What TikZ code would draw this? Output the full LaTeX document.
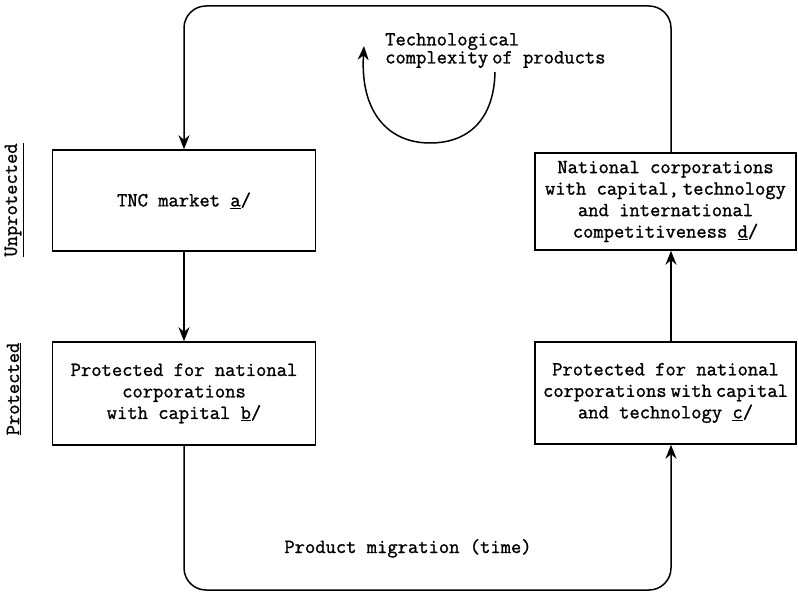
\documentclass[tikz,border=0pt]{standalone}
\usepackage{fontspec}
\setmainfont{Latin Modern Mono}[FakeBold=1.2]
\usetikzlibrary{arrows.meta}

\newcommand{\nsp}{\hspace{0.2em}}

\begin{document}
\begin{tikzpicture}[x=1pt,y=-1pt,
    every node/.style={font=\fontsize{20}{21.5}\selectfont},
    box/.style={draw,line width=1.5pt,align=center,inner sep=1pt,minimum width=263pt,minimum height=101pt},
    flow/.style={line width=1.5pt,-{Stealth[length=14pt,width=11pt]}}]
\useasboundingbox (0,0) rectangle (798,593);
\coordinate (tl) at (184,6);
\coordinate (tr) at (671,6);
\coordinate (bl) at (184,590);
\coordinate (br) at (671,590);
            \node [box] (tnc) at (184,200.5) {TNC market \underline{a}/};
            \node [box,minimum height=103pt] (natcap) at (184,393.5)
                {Protected for national\\corporations\\with capital \underline{b}/};
            \node [box,minimum width=261pt,minimum height=97pt] (natcomp) at (665.5,201.5)
                {National corporations\\with capital,\nsp technology\\and international\\competitiveness \underline{d}/};
            \node [box,minimum width=261pt,minimum height=102pt] (nattech) at (665.5,393)
                {Protected for national\\corporations\nsp with\nsp capital\\and technology \underline{c}/};
            \node [rotate=90] (unprot) at (14,200) {\underline{Unprotected}};
            \node [rotate=90] (prot) at (14,389) {\underline{Protected}};
            \node [anchor=north west,inner sep=0pt,align=left,font=\fontsize{20}{18}\selectfont] (techlbl) at (385,33)
                {Technological\\complexity\nsp of products};
            \node [anchor=base] (migr) at (408,553) {Product migration (time)};
% the loop
            \draw [flow,rounded corners=22pt] (natcomp.north -| tr) -- (tr) -- (tl) -- (tnc.north -| tl);
            \draw [flow] (tnc.south) -- (natcap.north);
            \draw [flow,rounded corners=22pt] (natcap.south -| bl) -- (bl) -- (br) -- (nattech.south -| br);
            \draw [flow] (nattech.north -| br) -- (natcomp.south -| br);
% circular arrow
            \coordinate (cstart) at (495,72);
            \coordinate (cend) at (364,46);
            \draw [flow] (cstart) .. controls (494,120) and (468,143) .. (430,143)
                .. controls (388,143) and (360,112) .. (cend);
\end{tikzpicture}
\end{document}
